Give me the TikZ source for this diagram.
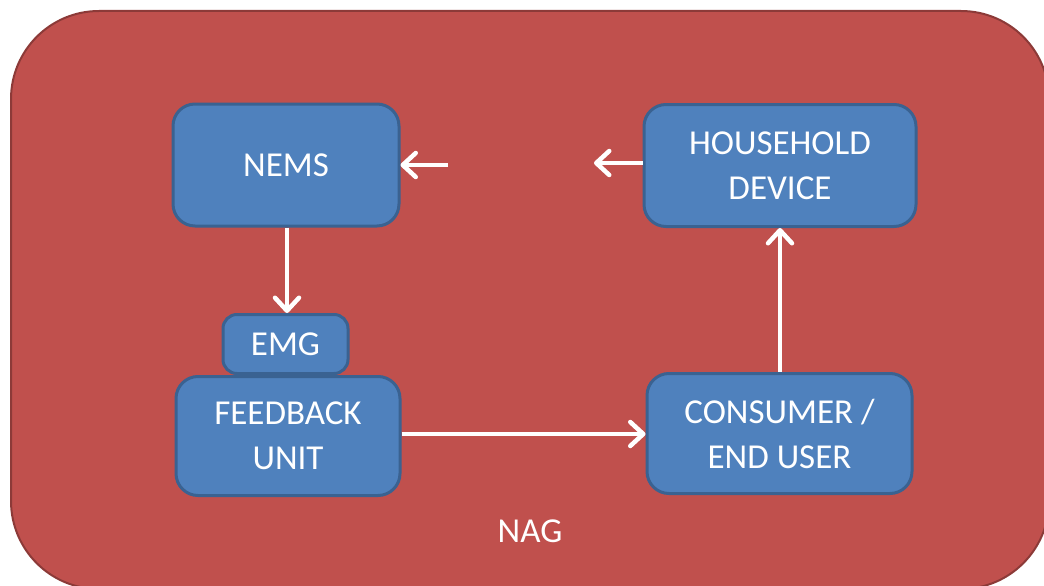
\documentclass[tikz,border=0pt]{standalone}
\usepackage{fontspec}
\setmainfont{Carlito}
\usetikzlibrary{arrows.meta}
\definecolor{bgred}{HTML}{C0504D}
\definecolor{bgredline}{HTML}{8C3A38}
\definecolor{boxblue}{HTML}{4F81BD}
\definecolor{boxline}{HTML}{3A6291}
\tikzset{
  blk/.style={draw=boxline, fill=boxblue, line width=3pt, rounded corners=22pt,
    text=white, align=center, font=\fontsize{35}{45}\selectfont, inner sep=0pt},
  flow/.style={draw=white, line width=3.5pt, -{Straight Barb[length=13pt,width=24pt,line width=4.5pt,round]}}
}
\begin{document}
\begin{tikzpicture}[x=1pt,y=-1pt]
\useasboundingbox (0,0) rectangle (1044,586);
\clip (0,0) rectangle (1044,586);
\draw[fill=bgred, draw=bgredline, line width=2pt, rounded corners=88pt] (11,11) rectangle (1049,589);
\node[blk, minimum width=226pt, minimum height=122pt] (nems) at (286,165) {NEMS};
\node[blk, minimum width=272pt, minimum height=122pt] (hh) at (780,165.5) {HOUSEHOLD\\DEVICE};
\node[blk, minimum width=224pt, minimum height=119pt] (fb) at (288,436) {FEEDBACK\\UNIT};
\node[blk, minimum width=125pt, minimum height=59pt, rounded corners=14pt] (emg) at (285.5,344) {EMG};
\node[blk, minimum width=265pt, minimum height=120pt] (cons) at (779.5,433.5) {CONSUMER /\\END USER};
\node[text=white, font=\fontsize{35}{45}\selectfont, inner sep=0pt] (nag) at (530,531) {NAG};
\coordinate (hhend) at (594,163);
\coordinate (nemsstart) at (448,165);
\draw[flow] (nemsstart) -- (nems.east);
\draw[flow] (hh.west |- hhend) -- (hhend);
\draw[flow] (nems.south -| 287,0) -- (emg.north -| 287,0);
\draw[flow] (fb.east |- 0,434) -- (cons.west |- 0,434);
\draw[flow] (cons.north -| 780,0) -- (hh.south -| 780,0);
\end{tikzpicture}
\end{document}
